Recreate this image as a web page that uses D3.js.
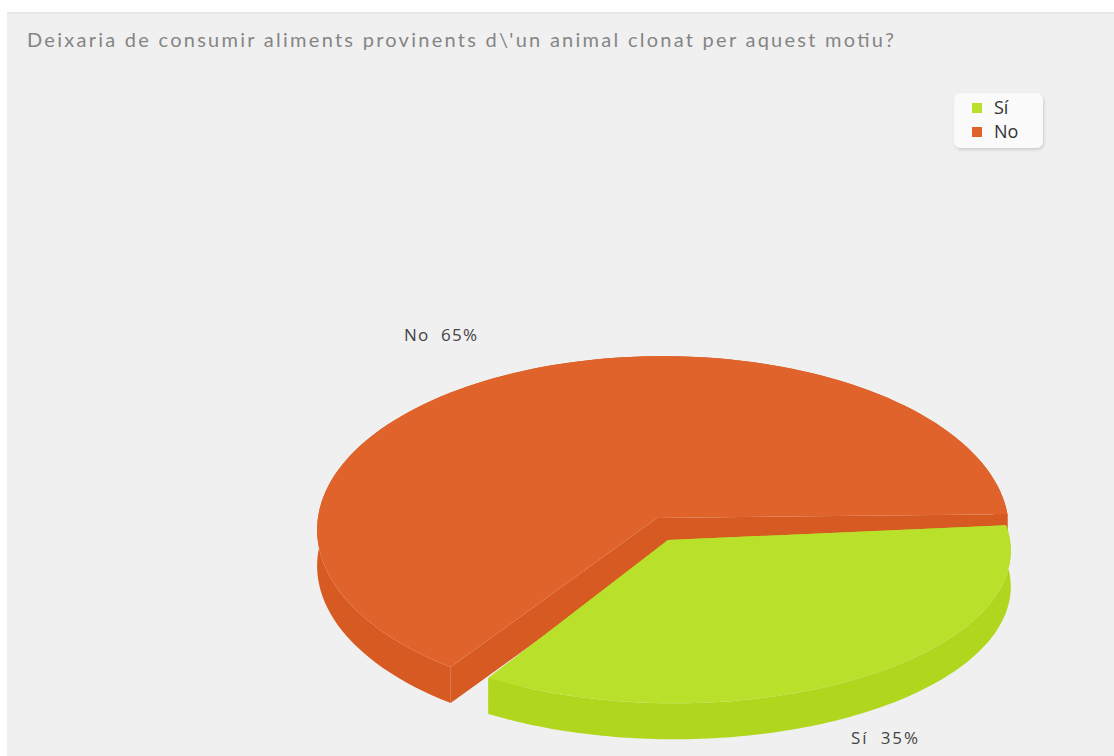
<!DOCTYPE html>
<html>
<head>
<meta charset="utf-8">
<script src="https://cdnjs.cloudflare.com/ajax/libs/d3/7.8.5/d3.min.js"></script>
<style>
html,body{margin:0;padding:0;background:#fff}
svg{display:block}
text{font-family:"Open Sans",sans-serif}
</style>
</head>
<body>
<svg id="chart" width="1114" height="756"></svg>
<script>
// Survey answers
const categories = ["Sí", "No"];
const percentages = [35, 65];
const topColours = ["#b9e12b", "#e0632b"];
const sideColours = ["#b0d61e", "#d65a22"];
const chartTitle = "Deixaria de consumir aliments provinents d\\'un animal clonat per aquest motiu?";

const svg = d3.select("#chart");
const rad = d => d * Math.PI / 180;

// Panel
svg.append("rect").attr("x", 7).attr("y", 12).attr("width", 1107).attr("height", 744).attr("fill", "#f0f0f0");
svg.append("rect").attr("x", 7).attr("y", 12).attr("width", 1107).attr("height", 1.5).attr("fill", "#e6e6e6");

svg.append("text").attr("x", 27).attr("y", 47)
  .attr("font-size", 20).attr("fill", "#858585").style("font-family", "Lato, sans-serif")
  .attr("textLength", 867).text(chartTitle);

// Tilted disc: a unit circle is pushed through a mild perspective so the near rim looks larger
const tiltV = 0.069, tiltU = 0.0174, depth = 36;
function projector(cx, cy, rx, ry) {
  const at = (u, v) => {
    const w = 1 - tiltV * v - tiltU * u;
    return [cx + rx * u / w, cy + ry * v / w];
  };
  return {centre: at(0, 0), rim: a => at(Math.cos(a - Math.PI / 2), Math.sin(a - Math.PI / 2))};
}

const slices = d3.pie().sort(null).value(d => d)
  .startAngle(rad(84.5)).endAngle(rad(444.5))(percentages);

const discs = [projector(668, 540, 336, 152), projector(657, 518, 345, 173)];
const sliceTurn = [0, rad(4.25)];
const line = d3.line();
const drop = pts => pts.map(([x, y]) => [x, y + depth]);
const rimPoints = (i) => {
  const s = slices[i], turn = sliceTurn[i];
  return d3.range(0, 121).map(k => discs[i].rim(s.startAngle + turn + (s.endAngle - s.startAngle) * k / 120));
};
const band = pts => line(pts.concat(drop(pts).reverse())) + "Z";

function drawSlice(i) {
  const g = svg.append("g");
  const rim = rimPoints(i), c = discs[i].centre;
  g.append("path").attr("d", band(rim)).attr("fill", sideColours[i]);
  g.append("path").attr("d", band([c, rim[0]])).attr("fill", sideColours[i]);
  g.append("path").attr("d", band([c, rim[rim.length - 1]])).attr("fill", sideColours[i]);
  g.append("path").attr("d", line([c, ...rim]) + "Z").attr("fill", topColours[i]);
}
drawSlice(1);
drawSlice(0);

// Slice labels
const labelAnchors = [[851, 738], [404, 335]];
const labelWidths = [67, 73];
categories.forEach((c, i) => {
  svg.append("text").attr("x", labelAnchors[i][0]).attr("y", labelAnchors[i][1] + 6)
    .attr("font-size", 17).attr("fill", "#444")
    .attr("textLength", labelWidths[i])
    .style("white-space", "pre").text(`${c}  ${percentages[i]}%`);
});

// Legend
const defs = svg.append("defs");
const shadow = defs.append("filter").attr("id", "legendShadow")
  .attr("x", "-10%").attr("y", "-10%").attr("width", "120%").attr("height", "125%");
shadow.append("feDropShadow").attr("dx", 1).attr("dy", 2).attr("stdDeviation", 1.5)
  .attr("flood-color", "#000").attr("flood-opacity", 0.14);
svg.append("rect").attr("x", 954).attr("y", 93).attr("width", 89).attr("height", 55).attr("rx", 7)
  .attr("fill", "#fafafa").attr("filter", "url(#legendShadow)");
const legendY = d3.scalePoint().domain(categories).range([108, 132]);
categories.forEach((c, i) => {
  svg.append("rect").attr("x", 972).attr("y", legendY(c) - 5).attr("width", 10).attr("height", 10)
    .attr("fill", topColours[i]);
  svg.append("text").attr("x", 994).attr("y", legendY(c) + 6)
    .attr("font-size", 18).attr("fill", "#333").text(c);
});
</script>
</body>
</html>
